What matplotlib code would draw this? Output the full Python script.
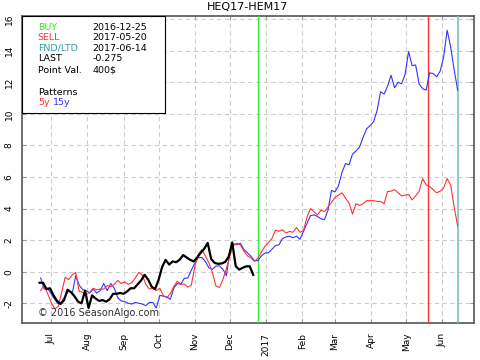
import numpy as np
import pandas as pd
import matplotlib
matplotlib.use("Agg")
import matplotlib.pyplot as plt
from matplotlib.patches import Rectangle
from matplotlib.ticker import FixedLocator, FixedFormatter

# spread HEQ17-HEM17, values sampled every 3 days
title = "HEQ17-HEM17"
pattern_end = "2017-06-14"
current_end = "2016-12-21"

# 5y seasonal pattern (red)
pattern_5y = [
    -1.2, -0.85, -1.4, -1.95, -2.35, -2.2, -1.3, -0.35, -0.5, -0.2,
    -0.05, -1.25, -1.3, -1.46, -1.3, -1.05, -1.15, -1.1, -1.1, -0.87,
    -0.95, -0.8, -0.55, -0.75, -0.65, -0.8, -0.7, -0.4, -0.05, -0.2,
    -0.8, -1.1, -1.05, -1.2, -1.05, -1.5, -1.65, -1.4, -0.93, -0.6,
    -0.8, -0.78, -0.98, -0.85, 0.35, 1.1, 1.4, 1.0, 0.57, -0.05,
    -0.9, -1.0, -0.5, 0.2, 1.0, 1.65, 1.8, 1.7, 1.3, 1.0,
    0.88, 0.65, 0.85, 1.25, 1.6, 1.85, 2.1, 2.63, 2.56, 2.66,
    2.45, 2.55, 2.5, 2.8, 2.5, 2.6, 3.45, 4.0, 3.8, 3.6,
    3.9, 3.8, 4.1, 4.4, 4.7, 4.85, 5.0, 4.65, 4.35, 3.65,
    4.3, 4.2, 4.3, 4.5, 4.5, 4.5, 4.45, 4.45, 4.3, 5.08,
    5.1, 5.2, 5.0, 4.8, 4.85, 4.9, 4.55, 4.8, 5.08, 5.9,
    5.5, 5.4, 5.2, 5.0, 5.1, 5.3, 5.9, 5.5, 4.1, 2.9,
]

# 15y seasonal pattern (blue)
pattern_15y = [
    -0.4, -1.1, -1.05, -1.4, -1.75, -2.05, -1.9, -1.55, -1.2, -1.4,
    -0.25, -0.85, -1.14, -1.2, -1.35, -1.1, -1.35, -1.2, -0.75, -1.2,
    -0.75, -1.05, -1.65, -1.85, -1.9, -2.0, -2.05, -1.95, -2.0, -2.05,
    -2.15, -1.95, -1.95, -2.3, -1.5, -1.55, -1.6, -1.75, -1.04, -0.75,
    -0.8, -0.42, -0.4, 0.1, 0.55, 0.9, 0.9, 0.65, 0.25, 0.15,
    0.35, 0.38, 0.15, -0.25, 1.3, 1.78, 1.7, 1.8, 1.4, 1.2,
    0.98, 0.7, 0.7, 1.0, 1.18, 1.2, 1.42, 1.65, 1.7, 2.1,
    2.2, 2.25, 2.15, 2.25, 2.05, 2.55, 3.05, 3.55, 3.6, 3.5,
    3.35, 3.3, 3.9, 5.15, 5.05, 5.45, 6.3, 6.85, 6.77, 7.45,
    7.65, 7.9, 8.5, 9.05, 9.25, 9.5, 10.2, 11.4, 11.25, 11.75,
    12.45, 11.65, 12.0, 11.9, 12.5, 13.95, 13.05, 13.1, 11.9, 11.6,
    11.5, 12.6, 12.55, 12.35, 12.7, 13.6, 15.3, 14.25, 12.8, 11.5,
]

# current season (black)
current = [
    -0.7, -0.7, -1.1, -1.05, -1.5, -1.85, -2.05, -1.8, -1.14, -1.3,
    -1.56, -1.9, -2.0, -1.2, -2.3, -1.5, -1.7, -1.85, -1.8, -1.9,
    -1.75, -1.4, -1.4, -1.35, -1.4, -1.25, -1.05, -1.05, -0.8, -0.55,
    -0.2, -0.5, -0.95, -1.1, -0.5, 0.3, 0.75, 0.45, 0.65, 0.6,
    0.76, 1.05, 0.9, 0.75, 0.65, 0.9, 1.2, 1.45, 1.82, 0.8,
    0.55, 0.5, 0.52, 0.62, 0.95, 1.85, 0.35, 0.13, 0.25, 0.34,
    0.34, -0.2,
]

buy_date = "2016-12-25"
sell_date = "2017-05-20"
fnd_date = "2017-06-14"
info_labels = ["BUY", "SELL", "FND/LTD", "LAST", "Point Val."]
info_values = ["2016-12-25", "2017-05-20", "2017-06-14", "-0.275", "400$"]
info_colors = ["#22ee22", "#ff3333", "#33a0a0", "black", "black"]

month_ticks = pd.date_range("2016-07-01", "2017-06-01", freq="MS")
month_labels = ["Jul", "Aug", "Sep", "Oct", "Nov", "Dec", "2017",
                "Feb", "Mar", "Apr", "May", "Jun"]
y_ticks = [-2, 0, 2, 4, 6, 8, 10, 12, 14, 16]

red = "#ff3333"
blue = "#3333ff"

d5 = pd.date_range(end=pattern_end, periods=len(pattern_5y), freq="3D")
d15 = pd.date_range(end=pattern_end, periods=len(pattern_15y), freq="3D")
dcur = pd.date_range(end=current_end, periods=len(current), freq="3D")

fig = plt.figure(figsize=(4.8, 3.6), dpi=100)
fig.subplots_adjust(left=0.0458, right=0.9875, top=0.9556, bottom=0.1028)
ax = fig.add_subplot(111)

ax.plot(d15, pattern_15y, color=blue, lw=0.8, zorder=4)
ax.plot(d5, pattern_5y, color=red, lw=0.8, zorder=5)
ax.plot(dcur, current, color="black", lw=1.6, zorder=6)

ax.axvline(pd.Timestamp(buy_date), color="#33ee33", lw=1.0, zorder=3)
ax.axvline(pd.Timestamp(sell_date), color="#ff3333", lw=1.0, zorder=3)
ax.axvline(pd.Timestamp(fnd_date), color="#77c4c4", lw=1.2, zorder=3)

ax.set_xlim(pd.Timestamp("2016-06-06"), pd.Timestamp("2017-06-28"))
ax.set_ylim(-3.25, 16.2)

ax.xaxis.set_major_locator(FixedLocator(matplotlib.dates.date2num(month_ticks)))
ax.xaxis.set_major_formatter(FixedFormatter(month_labels))
ax.set_yticks(y_ticks)
ax.set_yticklabels([str(v) for v in y_ticks])
for lbl in ax.get_yticklabels():
    lbl.set_rotation(90)
    lbl.set_va("center")
for lbl in ax.get_xticklabels():
    lbl.set_rotation(90)

ax.tick_params(axis="x", direction="in", length=3, color="#999999",
               labelsize=6.5, pad=7, top=True)
ax.tick_params(axis="y", direction="in", length=3, color="#999999",
               labelsize=6.5, pad=6, right=True)

ax.grid(True, color="#cccccc", ls=(0, (4, 3)), lw=0.8, zorder=0)
ax.set_axisbelow(True)
for s in ax.spines.values():
    s.set_color("#555555")
    s.set_linewidth(1.2)

ax.set_title(title, fontsize=8, pad=4)

# info box in the top left corner
ax.add_patch(Rectangle((0, 0.684), 0.3164, 0.316, transform=ax.transAxes,
                       facecolor="white", edgecolor="black", lw=0.8, zorder=7))
rows_y = [0.964, 0.929, 0.895, 0.860, 0.824]
for lab, val, col, yy in zip(info_labels, info_values, info_colors, rows_y):
    ax.text(0.035, yy, lab, color=col, fontsize=6.8, va="center",
            transform=ax.transAxes, zorder=8)
    ax.text(0.155, yy, val, color="black", fontsize=6.8, va="center",
            transform=ax.transAxes, zorder=8)
ax.text(0.035, 0.752, "Patterns", fontsize=6.8, va="center",
        transform=ax.transAxes, zorder=8)
ax.text(0.035, 0.718, "5y", color=red, fontsize=6.8, va="center",
        transform=ax.transAxes, zorder=8)
ax.text(0.069, 0.718, "15y", color=blue, fontsize=6.8, va="center",
        transform=ax.transAxes, zorder=8)

ax.text(0.035, 0.033, "\u00a9 2016 SeasonAlgo.com", fontsize=7,
        color="#333333", va="center", transform=ax.transAxes, zorder=8)

fig.savefig("out.png", dpi=100)
